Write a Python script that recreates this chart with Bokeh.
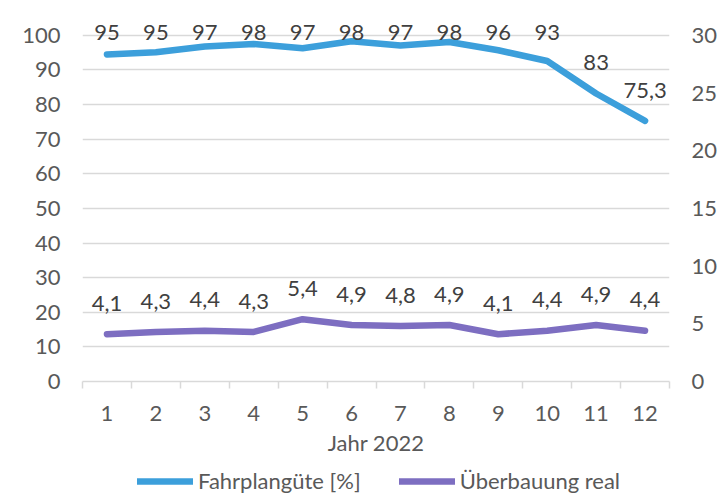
import numpy as np
from bokeh.plotting import figure
from bokeh.layouts import column
from bokeh.models import (Range1d, LinearAxis, FixedTicker, Legend, LegendItem,
                          ColumnDataSource)
from bokeh.core.properties import value
from bokeh.embed import file_html
from bokeh.resources import INLINE

# ---------------- data ----------------
months = [1, 2, 3, 4, 5, 6, 7, 8, 9, 10, 11, 12]
fahrplanguete = [94.5, 95.1, 96.8, 97.5, 96.3, 98.3, 97.1, 98.1, 95.7, 92.6, 83.2, 75.3]
fahrplanguete_labels = ["95", "95", "97", "98", "97", "98", "97", "98", "96", "93", "83", "75,3"]
ueberbauung = [4.1, 4.3, 4.4, 4.3, 5.4, 4.9, 4.8, 4.9, 4.1, 4.4, 4.9, 4.4]
left_ticks = [0, 10, 20, 30, 40, 50, 60, 70, 80, 90, 100]
right_ticks = [0, 5, 10, 15, 20, 25, 30]
x_title = "Jahr 2022"
name_blue = "Fahrplangüte [%]"
name_purple = "Überbauung real"

# ---------------- style ----------------
FONT = "Lato"
FS = "22px"
TXT = "#595959"
LBL = "#404040"
GRID = "#D9D9D9"
BLUE = "#3C9FDB"
PURPLE = "#7D6EC1"
LW = 6.5

W = 720
LEG_H = 40
H = 498 - LEG_H
TOP, LEFT, RIGHT = 12, 82, 47
FRAME_BOTTOM = 383
BOTTOM = H - FRAME_BOTTOM
FH = FRAME_BOTTOM - TOP
gap_top = 23                       # px between frame top and the 100 gridline
px_per_unit = (FH - gap_top) / 100.0
y_end = 100 + gap_top / px_per_unit
ratio = 30.0 / 100.0
label_off_px = 31
label_clamp_px = 3                 # label centre max px above the 100 line

p = figure(width=W, height=H, output_backend="svg", toolbar_location=None,
           x_range=Range1d(0.5, 12.5), y_range=Range1d(0, y_end),
           min_border_top=TOP, min_border_left=LEFT, min_border_right=RIGHT,
           min_border_bottom=BOTTOM)
p.outline_line_color = None
p.background_fill_color = "white"
p.extra_y_ranges = {"right": Range1d(0, y_end * ratio)}

# axes
p.xaxis.ticker = FixedTicker(ticks=months, minor_ticks=[m - 0.5 for m in months] + [12.5])
p.xaxis.major_tick_line_color = None
p.xaxis.major_tick_out = 0
p.xaxis.major_tick_in = 0
p.xaxis.minor_tick_line_color = GRID
p.xaxis.minor_tick_line_width = 1.5
p.xaxis.minor_tick_out = 7
p.xaxis.minor_tick_in = 0
p.xaxis.axis_line_color = GRID
p.xaxis.axis_line_width = 1.5
p.xaxis.major_label_standoff = 17
p.xaxis.axis_label = x_title
p.xaxis.axis_label_standoff = 5
p.xaxis.axis_label_text_font_style = "normal"

p.yaxis.ticker = FixedTicker(ticks=left_ticks)
p.yaxis.axis_line_color = None
p.yaxis.major_tick_line_color = None
p.yaxis.minor_tick_line_color = None
p.yaxis.major_tick_out = 0
p.yaxis.major_tick_in = 0
p.yaxis.major_label_standoff = 22

raxis = LinearAxis(y_range_name="right", ticker=FixedTicker(ticks=right_ticks))
raxis.axis_line_color = None
raxis.major_tick_line_color = None
raxis.minor_tick_line_color = None
raxis.major_tick_out = 0
raxis.major_tick_in = 0
raxis.major_label_standoff = 22
p.add_layout(raxis, "right")

for ax in [p.xaxis[0], p.yaxis[0], raxis]:
    ax.major_label_text_font = FONT
    ax.major_label_text_font_size = FS
    ax.major_label_text_color = TXT
    ax.axis_label_text_font = FONT
    ax.axis_label_text_font_size = FS
    ax.axis_label_text_color = TXT

p.xgrid.grid_line_color = None
p.ygrid.ticker = FixedTicker(ticks=left_ticks)
p.ygrid.grid_line_color = GRID
p.ygrid.grid_line_width = 1.5

# lines
src_b = ColumnDataSource(dict(
    x=months, y=fahrplanguete, lab=fahrplanguete_labels,
    ly=list(np.minimum(np.array(fahrplanguete) + label_off_px / px_per_unit,
                       100 + label_clamp_px / px_per_unit))))
purple_labels = [f"{v:.1f}".replace(".", ",") for v in ueberbauung]
src_p = ColumnDataSource(dict(
    x=months, y=ueberbauung, lab=purple_labels,
    ly=list(np.array(ueberbauung) + label_off_px / px_per_unit * ratio)))

line_kw_b = dict(line_color=BLUE, line_width=LW, line_cap="round", line_join="round")
line_kw_p = dict(line_color=PURPLE, line_width=LW, line_cap="round", line_join="round")
p.line("x", "y", source=src_b, **line_kw_b)
p.line("x", "y", source=src_p, y_range_name="right", **line_kw_p)

p.text("x", "ly", text="lab", source=src_b, text_align="center",
       text_baseline="middle", text_font=value(FONT), text_font_size=FS,
       text_color=LBL)
p.text("x", "ly", text="lab", source=src_p, text_align="center",
       text_baseline="middle", text_font=value(FONT), text_font_size=FS,
       text_color=LBL, y_range_name="right")

# ---------------- legend strip (frame aligned with the chart's frame) ----------------
pl = figure(width=W, height=LEG_H, output_backend="svg", toolbar_location=None,
            x_range=Range1d(-100, -99), y_range=Range1d(-100, -99),
            x_axis_type=None, y_axis_type=None,
            min_border_top=0, min_border_bottom=0, min_border_left=0, min_border_right=0)
pl.outline_line_color = None
pl.grid.visible = False
lb = pl.line("x", "y", source=src_b, **line_kw_b)
lp = pl.line("x", "y", source=src_p, **line_kw_p)

legend = Legend(items=[LegendItem(label=name_blue, renderers=[lb]),
                       LegendItem(label=name_purple, renderers=[lp])],
                orientation="horizontal", location=(137 - LEFT, 4))
legend.label_text_font = FONT
legend.label_text_font_size = FS
legend.label_text_color = TXT
legend.glyph_width = 56
legend.glyph_height = 20
legend.label_height = 20
legend.label_standoff = 5
legend.spacing = 38
legend.padding = 0
legend.margin = 0
legend.border_line_color = None
legend.background_fill_alpha = 0
pl.add_layout(legend, "center")

layout = column(p, pl, spacing=0)
open("out.html", "w").write(file_html(layout, INLINE))
